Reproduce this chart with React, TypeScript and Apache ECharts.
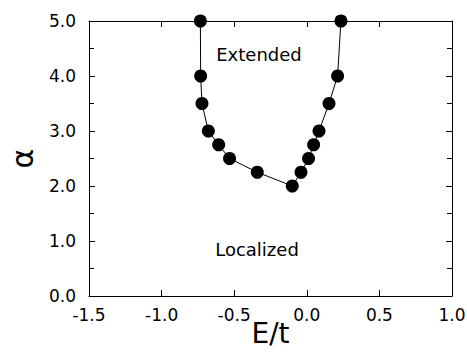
import React, { useEffect, useRef } from "react";
import * as echarts from "echarts";

const energies = [-0.733, -0.731, -0.722, -0.678, -0.607, -0.532, -0.341, -0.1, -0.04, 0.012, 0.047, 0.084, 0.153, 0.212, 0.235];
const alphas = [5.0, 4.0, 3.5, 3.0, 2.75, 2.5, 2.25, 2.0, 2.25, 2.5, 2.75, 3.0, 3.5, 4.0, 5.0];
const regionLabels = ["Extended", "Localized"];

const FONT = "DejaVu Sans";

export default function App() {
  const ref = useRef<HTMLDivElement>(null);
  useEffect(() => {
    if (!ref.current) return;
    const chart = echarts.init(ref.current, null, { renderer: "svg" });
    const data = energies.map((e, i) => [e, alphas[i]]);
    const axisLine = { show: true, onZero: false, lineStyle: { color: "#000", width: 1 } };
    chart.setOption({
      animation: false,
      backgroundColor: "#fff",
      grid: { left: 89, right: 15, top: 21, bottom: 56, containLabel: false, outerBoundsMode: "none" },
      xAxis: [
        {
          type: "value",
          min: -1.5,
          max: 1.0,
          interval: 0.5,
          position: "bottom",
          axisLine,
          axisTick: { show: true, inside: true, length: 6, lineStyle: { color: "#000" } },
          splitLine: { show: false },
          axisLabel: {
            color: "#000",
            fontFamily: FONT,
            fontSize: 17,
            margin: 10,
            formatter: (v: number) => v.toFixed(1),
          },
          name: "E/t",
          nameLocation: "middle",
          nameGap: 23,
          nameMoveOverlap: false,
          nameTextStyle: { color: "#000", fontFamily: FONT, fontSize: 28 },
        },
        {
          type: "value",
          min: -1.5,
          max: 1.0,
          interval: 0.5,
          position: "top",
          axisLine,
          axisTick: { show: true, inside: true, length: 6, lineStyle: { color: "#000" } },
          splitLine: { show: false },
          axisLabel: { show: false },
        },
      ],
      yAxis: [
        {
          type: "value",
          min: 0,
          max: 5,
          interval: 1,
          position: "left",
          axisLine,
          axisTick: { show: true, inside: true, length: 6, lineStyle: { color: "#000" } },
          minorTick: { show: true, splitNumber: 2, length: 5, lineStyle: { color: "#000" } },
          splitLine: { show: false },
          axisLabel: {
            color: "#000",
            fontFamily: FONT,
            fontSize: 17,
            margin: 13,
            formatter: (v: number) => v.toFixed(1),
          },
          name: "α",
          nameLocation: "middle",
          nameGap: 52,
          nameMoveOverlap: false,
          nameRotate: 90,
          nameTextStyle: { color: "#000", fontFamily: FONT, fontSize: 30 },
        },
        {
          type: "value",
          min: 0,
          max: 5,
          interval: 1,
          position: "right",
          axisLine,
          axisTick: { show: true, inside: true, length: 6, lineStyle: { color: "#000" } },
          minorTick: { show: true, splitNumber: 2, length: 5, lineStyle: { color: "#000" } },
          splitLine: { show: false },
          axisLabel: { show: false },
        },
      ],
      graphic: [
        {
          type: "text",
          x: 259,
          y: 54,
          style: { text: regionLabels[0], fill: "#000", font: `18px "${FONT}"`, textAlign: "center", textVerticalAlign: "middle" },
        },
        {
          type: "text",
          x: 257,
          y: 249,
          style: { text: regionLabels[1], fill: "#000", font: `18px "${FONT}"`, textAlign: "center", textVerticalAlign: "middle" },
        },
      ],
      series: [
        {
          type: "line",
          data,
          xAxisIndex: 0,
          yAxisIndex: 0,
          symbol: "circle",
          symbolSize: 13,
          clip: false,
          lineStyle: { color: "#000", width: 1 },
          itemStyle: { color: "#000" },
          z: 5,
        },
      ],
    });
    return () => chart.dispose();
  }, []);
  return <div ref={ref} style={{ position: "fixed", left: 0, top: 0, width: 467, height: 352 }} />;
}
